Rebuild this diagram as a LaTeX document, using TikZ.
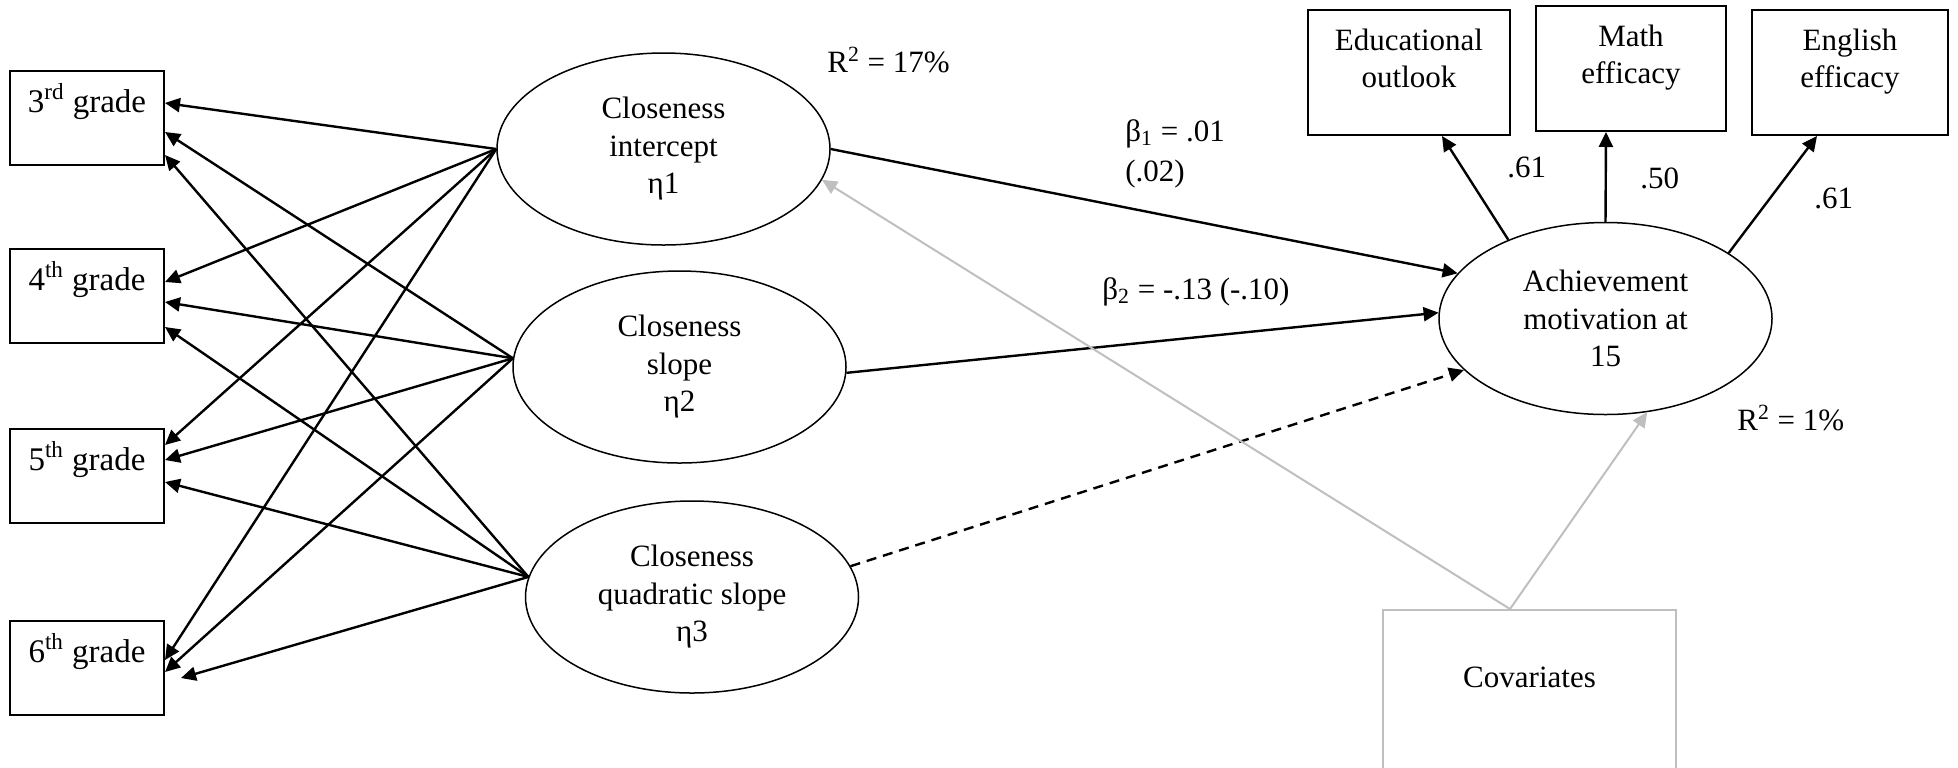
\documentclass[tikz,border=0pt]{standalone}
\usepackage{fontspec}
\setmainfont{Liberation Serif}
\usetikzlibrary{arrows.meta,shapes.geometric}
\definecolor{cvgray}{RGB}{191,191,191}
\begin{document}
\begin{tikzpicture}[x=0.5pt,y=-0.5pt,
  mainfont/.style={font=\fontsize{15.5pt}{18.75pt}\selectfont},
  gbox/.style={draw, line width=1pt, minimum width=77pt, minimum height=47pt, inner sep=0pt},
  gtext/.style={font=\fontsize{16.5pt}{20pt}\selectfont, anchor=base, inner sep=0pt},
  lat/.style={ellipse, draw, line width=0.75pt, minimum width=166.5pt, minimum height=96pt, inner sep=0pt, align=center, mainfont},
  obox/.style={draw, line width=1pt, minimum height=62.5pt, inner sep=0pt},
  otext/.style={anchor=north, inner sep=0pt, align=center, font=\fontsize{15.5pt}{18.5pt}\selectfont},
  lbl/.style={inner sep=0pt, mainfont},
  headtip/.style={-{Triangle[length=7.5pt,width=7pt]}},
  conn/.style={line width=1.2pt, headtip},
  gconn/.style={line width=1pt, draw=cvgray, -{Triangle[length=7.5pt,width=7pt,fill=cvgray]}},
]
\useasboundingbox (0,0) rectangle (1958,767);
\clip (0,0) rectangle (1958,767);

% grade boxes
\node[gbox] (g3) at (87,118) {};
\node[gbox] (g4) at (87,296) {};
\node[gbox] (g5) at (87,476) {};
\node[gbox] (g6) at (87,668) {};
\node[gtext] (g3t) at (87,112) {3\textsuperscript{rd} grade};
\node[gtext] (g4t) at (87,290) {4\textsuperscript{th} grade};
\node[gtext] (g5t) at (87,470) {5\textsuperscript{th} grade};
\node[gtext] (g6t) at (87,662) {6\textsuperscript{th} grade};

% latent growth factors
\node[lat] (e1) at (663.5,149) {Closeness\\intercept\\η1};
\node[lat] (e2) at (679.5,367) {Closeness\\slope\\η2};
\node[lat] (e3) at (692,597) {Closeness\\quadratic slope\\η3};

% outcome
\node[lat] (ach) at (1605.5,318.5) {Achievement\\motivation at\\15};

% indicator boxes
\node[obox, minimum width=101pt] (edu) at (1409,72.5) {};
\node[obox, minimum width=95pt] (math) at (1631,68.5) {};
\node[obox, minimum width=98pt] (eng) at (1850,72.5) {};
\node[otext] (edut) at (1409,28.5) {Educational\\outlook};
\node[otext] (matht) at (1631,24.5) {Math\\efficacy};
\node[otext] (engt) at (1850,28.5) {English\\efficacy};

% covariates
\node[draw=cvgray, line width=1pt, minimum width=146.5pt, minimum height=100pt, inner sep=0pt] (cov) at (1529.5,710) {};
\node[lbl, anchor=base] (covt) at (1529.5,687) {Covariates};

% labels
\node[lbl, anchor=base west] (r17) at (827,72) {R\textsuperscript{2} = 17\%};
\node[lbl, anchor=north west, align=left, font=\fontsize{15.5pt}{20pt}\selectfont] (b1) at (1125,119) {β\textsubscript{1} = .01\\(.02)};
\node[lbl, anchor=base west] (b2) at (1102,299) {β\textsubscript{2} = -.13 (-.10)};
\node[lbl, anchor=base west] (l1) at (1507,177) {.61};
\node[lbl, anchor=base west] (l2) at (1640,188) {.50};
\node[lbl, anchor=base west] (l3) at (1814,208) {.61};
\node[lbl, anchor=base west] (r1) at (1737,430) {R\textsuperscript{2} = 1\%};

% loadings on grades
\draw[conn] (e1.west) -- ([yshift=7.5pt]g3.east);
\draw[conn] (e2.177) -- ([yshift=-7pt]g3.east);
\draw[conn] (e3.173) -- ([yshift=-18.5pt]g3.east);
\draw[conn] (e1.west) -- ([yshift=7pt]g4.east);
\draw[conn] (e2.177) -- ([yshift=-3pt]g4.east);
\draw[conn] (e3.173) -- ([yshift=-15.5pt]g4.east);
\draw[conn] (e1.west) -- ([yshift=15.5pt]g5.east);
\draw[conn] (e2.177) -- ([yshift=8pt]g5.east);
\draw[conn] (e3.173) -- ([yshift=-3pt]g5.east);
\draw[conn] (e1.west) -- ([yshift=4pt]g6.east);
\draw[conn] (e2.177) -- ([yshift=-2pt]g6.east);
\draw[conn] (e3.173) -- ([xshift=8pt,yshift=-5pt]g6.east);

% structural paths
\draw[conn] (e1.east) -- (ach.163);
\draw[conn] (e2.-2) -- (ach.178);
\draw[conn, dash pattern=on 5pt off 3.5pt] (e3.11) -- (ach.200);

% measurement of outcome
\draw[conn] (ach.141) -- ([xshift=16.5pt]edu.south);
\draw[conn] (ach.north) -- ([xshift=-12.5pt]math.south);
\draw[conn] (ach.28) -- ([xshift=-16.5pt]eng.south);

% covariates
\draw[gconn] ([xshift=-9.75pt]cov.north) -- (e1.-11);
\draw[gconn] ([xshift=-9.75pt]cov.north) -- (ach.-66);
\end{tikzpicture}
\end{document}
